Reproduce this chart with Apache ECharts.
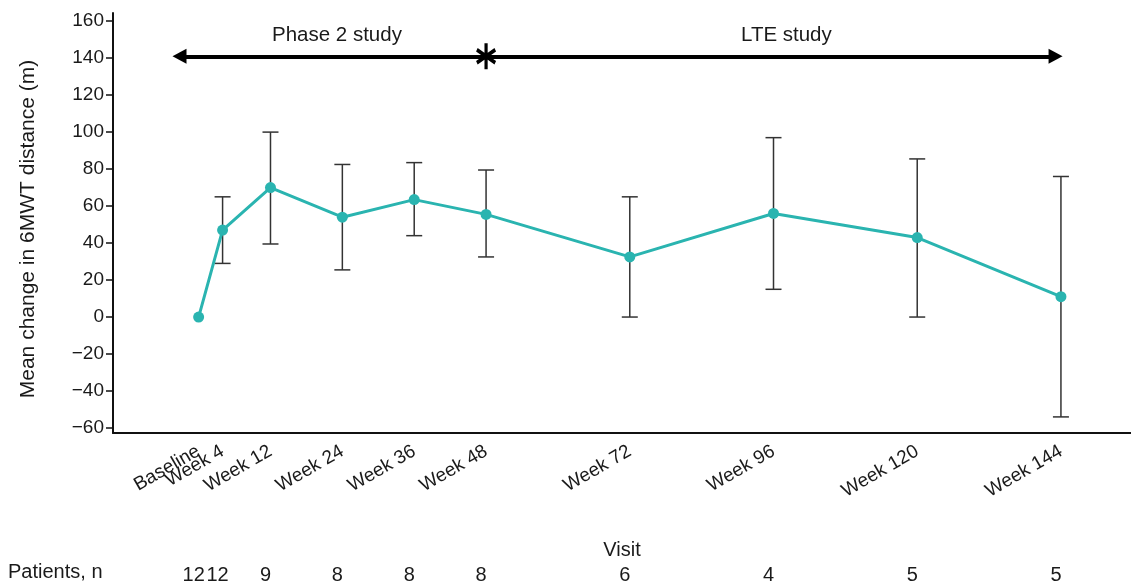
<!DOCTYPE html>
<html>
<head>
<meta charset="utf-8">
<script src="https://cdn.jsdelivr.net/npm/echarts@6/dist/echarts.min.js"></script>
<style>html,body{margin:0;padding:0;background:#fff;}#c{width:1131px;height:586px;}</style>
</head>
<body>
<div id="c"></div>
<script>
const visitLabels = ['Baseline','Week 4','Week 12','Week 24','Week 36','Week 48','Week 72','Week 96','Week 120','Week 144'];
const visitWeeks = [0, 4, 12, 24, 36, 48, 72, 96, 120, 144];
const meanChange = [0, 47, 70, 54, 63.5, 55.5, 32.5, 56, 43, 11];
const errLow = [null, 29, 39.5, 25.5, 44, 32.5, 0, 15, 0, -54];
const errHigh = [null, 65, 100, 82.5, 83.5, 79.5, 65, 97, 85.5, 76];
const patients = [12, 12, 9, 8, 8, 8, 6, 4, 5, 5];
const yTicks = [-60, -40, -20, 0, 20, 40, 60, 80, 100, 120, 140, 160];
const phaseSpan = [-3.2, 143.1];
const phaseY = 141;
const phaseSplitWeek = 48;

const FONT = '"Liberation Sans", Arial, sans-serif';
const TXT = '#1a1a1a';
const TEAL = '#2ab4b0';

const lineData = visitWeeks.map((w, i) => [w, meanChange[i]]);
const errData = [];
visitWeeks.forEach((w, i) => { if (errLow[i] !== null) errData.push([w, errLow[i], errHigh[i]]); });

const asteriskPath = 'path://M-1.5,-10 L1.5,-10 L1.5,10 L-1.5,10 Z M7.91,-6.299 L9.41,-3.701 L-7.91,6.299 L-9.41,3.701 Z M-9.41,-3.701 L-7.91,-6.299 L9.41,3.701 L7.91,6.299 Z';

// even-indexed and odd-indexed visit labels on two overlaid axes so close labels are not culled
const evenWeeks = visitWeeks.filter((w, i) => i % 2 === 0);
const oddWeeks = visitWeeks.filter((w, i) => i % 2 === 1);

function visitAxis(values, show) {
  return {
    type: 'value', min: -14.3, max: 155.7, position: 'bottom',
    splitLine: {show: false},
    axisLine: {show: show, onZero: false, lineStyle: {color: '#111', width: 2}},
    axisTick: {show: false},
    axisLabel: {
      customValues: values, rotate: 30, margin: 17, hideOverlap: false,
      fontSize: 19, color: TXT, fontFamily: FONT,
      formatter: v => visitLabels[visitWeeks.indexOf(v)]
    }
  };
}

const xMain = visitAxis(evenWeeks, true);
xMain.name = 'Visit';
xMain.nameLocation = 'middle';
xMain.nameGap = 107;
xMain.nameTextStyle = {fontSize: 20, color: TXT, fontFamily: FONT};

const chart = echarts.init(document.getElementById('c'), null, {renderer: 'canvas'});
chart.setOption({
  animation: false,
  backgroundColor: '#fff',
  textStyle: {fontFamily: FONT},
  grid: {left: 113, right: 0, top: 13, bottom: 153, outerBoundsMode: 'none', containLabel: false},
  xAxis: [xMain, visitAxis(oddWeeks, false), {
    type: 'value', min: -14.3, max: 155.7, position: 'bottom', offset: 130,
    splitLine: {show: false},
    axisLine: {show: false, onZero: false}, axisTick: {show: false},
    axisLabel: {
      customValues: visitWeeks, margin: 2, padding: [0, 10, 0, 0], hideOverlap: false,
      fontSize: 20, color: TXT, fontFamily: FONT,
      formatter: v => String(patients[visitWeeks.indexOf(v)])
    }
  }],
  yAxis: {
    type: 'value', min: -62.7, max: 164.4,
    splitLine: {show: false},
    axisLine: {show: true, onZero: false, lineStyle: {color: '#111', width: 2}},
    axisTick: {show: true, customValues: yTicks, length: 7, lineStyle: {color: '#111', width: 1.5}},
    axisLabel: {customValues: yTicks, fontSize: 19, color: TXT, margin: 9, fontFamily: FONT,
      formatter: v => (v < 0 ? '\u2212' + Math.abs(v) : String(v))},
    name: 'Mean change in 6MWT distance (m)', nameLocation: 'middle', nameGap: 74, nameRotate: 90,
    nameTextStyle: {fontSize: 21, color: TXT, fontFamily: FONT, padding: [0, 0, 0, -12]}
  },
  graphic: [
    {type: 'text', left: 8, top: 562, style: {text: 'Patients, n', fontSize: 20, fill: TXT, fontFamily: FONT}},
    {type: 'text', left: 272, top: 25, style: {text: 'Phase 2 study', fontSize: 20.5, fill: TXT, fontFamily: FONT}},
    {type: 'text', left: 741, top: 25, style: {text: 'LTE study', fontSize: 20.5, fill: TXT, fontFamily: FONT}}
  ],
  series: [
    {
      type: 'custom', name: 'err', xAxisIndex: 0, z: 2,
      data: errData,
      renderItem: function (params, api) {
        const x = api.value(0);
        const lo = api.coord([x, api.value(1)]);
        const hi = api.coord([x, api.value(2)]);
        const hw = 8;
        const st = {stroke: '#333', lineWidth: 1.5};
        return {type: 'group', children: [
          {type: 'line', shape: {x1: lo[0], y1: lo[1], x2: hi[0], y2: hi[1]}, style: st},
          {type: 'line', shape: {x1: lo[0] - hw, y1: lo[1], x2: lo[0] + hw, y2: lo[1]}, style: st},
          {type: 'line', shape: {x1: hi[0] - hw, y1: hi[1], x2: hi[0] + hw, y2: hi[1]}, style: st}
        ]};
      }
    },
    {
      type: 'line', name: 'mean', xAxisIndex: 0, z: 3,
      data: lineData,
      symbol: 'circle', symbolSize: 11,
      lineStyle: {color: TEAL, width: 3},
      itemStyle: {color: TEAL},
      markLine: {
        silent: true, symbol: ['triangle', 'triangle'], symbolSize: [15, 14],
        lineStyle: {color: '#000', width: 4, type: 'solid'},
        itemStyle: {color: '#000'},
        label: {show: false},
        data: [[{coord: [phaseSpan[0], phaseY]}, {coord: [phaseSpan[1], phaseY]}]]
      },
      markPoint: {
        silent: true, symbol: asteriskPath, symbolSize: [20, 26],
        itemStyle: {color: '#000'}, label: {show: false},
        data: [{coord: [phaseSplitWeek, phaseY]}]
      }
    }
  ]
});
</script>
</body>
</html>
